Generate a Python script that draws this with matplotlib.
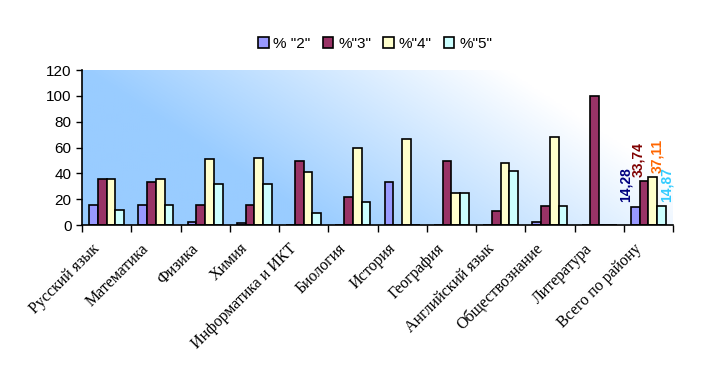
import matplotlib
matplotlib.use("Agg")
import matplotlib.pyplot as plt
import numpy as np
from matplotlib.colors import LinearSegmentedColormap
from matplotlib.transforms import offset_copy

categories = ["Русский язык", "Математика", "Физика", "Химия", "Информатика и ИКТ",
              "Биология", "История", "География", "Английский язык",
              "Обществознание", "Литература", "Всего по району"]
series_names = ['% "2"', '%"3"', '%"4"', '%"5"']
s2 = [15.5, 15.5, 2.0, 1.3, 0, 0, 33.0, 0, 0, 2.0, 0, 14.28]
s3 = [36.0, 33.0, 15.5, 15.5, 49.5, 21.4, 0, 49.5, 10.8, 14.7, 100.0, 33.74]
s4 = [36.0, 35.6, 50.8, 51.6, 41.3, 60.0, 66.3, 25.0, 47.7, 67.8, 0, 37.11]
s5 = [11.4, 15.5, 32.0, 32.0, 9.0, 17.5, 0, 25.0, 41.5, 14.7, 0, 14.87]
total_labels = ["14,28", "33,74", "37,11", "14,87"]
yticks = [0, 20, 40, 60, 80, 100, 120]

colors = ["#9999FF", "#993366", "#FFFFCC", "#CCFFFF"]
label_colors = ["#000080", "#800000", "#FF6600", "#33CCFF"]
label_dx = [-7, -4, 3, 4]  # horizontal offsets in points

fig = plt.figure(figsize=(7.24, 3.79), dpi=100)
ax = fig.add_axes([82/724, 1-225/379, (673-82)/724, (225-70)/379])

# gradient background
nx, ny = 300, 100
xx, yy = np.meshgrid(np.linspace(0, 1, nx), np.linspace(0, 1, ny))
t = xx + 0.4 * (yy - 0.5)
t = np.clip((t - 0.2) / 0.72, 0, 1)
cmap = LinearSegmentedColormap.from_list("g", ["#99CCFF", "#FFFFFF"])
ax.imshow(t, cmap=cmap, extent=[-0.5, len(categories) - 0.5, 0, 120],
          origin="lower", aspect="auto", zorder=0, interpolation="bilinear")

x = np.arange(len(categories))
w = 0.177
data = [s2, s3, s4, s5]
for i, (vals, c, name) in enumerate(zip(data, colors, series_names)):
    ax.bar(x + (i - 1.5) * w, vals, w, color=c, edgecolor="black",
           linewidth=1.2, label=name, zorder=2)

# data labels for last group
last = len(categories) - 1
for i, (vals, lab, lc, dx) in enumerate(zip(data, total_labels, label_colors, label_dx)):
    tr = offset_copy(ax.transData, fig=fig, x=dx, y=3, units="points")
    ax.text(last + (i - 1.5) * w, vals[last], lab, rotation=90,
            ha="center", va="bottom", color=lc, fontsize=10,
            fontweight="bold", family="Liberation Sans", zorder=3, transform=tr)

ax.set_xlim(-0.5, len(categories) - 0.5)
ax.set_ylim(0, 120)
ax.set_yticks(yticks)
ax.set_yticklabels([str(v) for v in yticks], family="Liberation Sans", fontsize=11)
ax.set_xticks(np.arange(len(categories) + 1) - 0.5, minor=False)
ax.set_xticklabels([])
ax.tick_params(axis="x", length=5, direction="out", width=1)
ax.tick_params(axis="y", length=4, direction="out", width=1)
for s in ["top", "right"]:
    ax.spines[s].set_visible(False)
for s in ["left", "bottom"]:
    ax.spines[s].set_linewidth(1.2)

for xi, cat in zip(x, categories):
    ax.text(xi - 0.3, -12, cat, rotation=45, ha="right", va="top",
            rotation_mode="anchor", family="Liberation Serif", fontsize=11.5,
            transform=ax.transData, clip_on=False)

leg = fig.legend(loc="center", bbox_to_anchor=(375/724, 1-44/379), ncol=4,
                 frameon=False, prop={"family": "Liberation Sans", "size": 11},
                 handlelength=0.7, handleheight=0.7, handletextpad=0.3,
                 columnspacing=0.8)

fig.savefig("out.png", dpi=100)
